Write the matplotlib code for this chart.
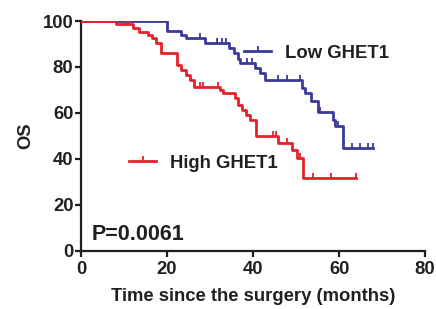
import matplotlib
matplotlib.use("Agg")
import matplotlib.pyplot as plt
from matplotlib.lines import Line2D

plt.rcParams['font.family'] = ['Liberation Sans', 'DejaVu Sans']
plt.rcParams['font.weight'] = 'bold'

# Low GHET1 (step times and survival after each step)
low_t = [0, 20.0, 23.3, 24.5, 28.8, 34.3, 35.5, 36.5, 37.0, 40.5, 41.5, 42.8, 51.3, 52.0, 53.5, 55.0, 58.5, 59.0, 60.8, 68.0]
low_s = [100, 95.8, 94.0, 92.5, 90.3, 88.1, 85.9, 83.3, 81.6, 79.4, 77.3, 74.3, 71.0, 68.6, 65.0, 60.6, 57.0, 54.3, 44.8, 44.8]
low_cens = [13.7, 20.0, 27.6, 31.6, 32.8, 33.7, 38.5, 39.7, 45.8, 47.8, 50.9, 55.6, 59.8, 62.9, 64.9, 66.7, 68.0]

# High GHET1
high_t = [0, 8.2, 12.1, 13.5, 15.5, 16.5, 17.5, 18.5, 22.3, 23.3, 24.4, 25.3, 26.2, 32.2, 33.0, 35.8, 36.6, 37.5, 38.3, 39.3, 40.6, 45.8, 49.0, 50.2, 51.6, 64.0]
high_s = [100, 98.7, 96.8, 95.4, 93.9, 92.5, 90.3, 86.0, 81.0, 78.8, 76.5, 74.3, 71.4, 69.9, 68.6, 66.5, 63.6, 61.4, 59.3, 57.0, 49.8, 47.0, 44.0, 40.5, 31.6, 31.6]
high_cens = [10.2, 11.0, 27.6, 28.4, 31.9, 44.6, 45.3, 47.8, 50.9, 53.9, 58.1, 64.0]

low_label = "Low GHET1"
high_label = "High GHET1"
p_text = "P=0.0061"
xticks = [0, 20, 40, 60, 80]
yticks = [0, 20, 40, 60, 80, 100]

blue = "#3b3a98"
red = "#e8202a"
ink = "#231f20"
up_tick = [(0, 0), (0, 1)]

def surv_at(ts, ss, t):
    v = ss[0]
    for ti, si in zip(ts, ss):
        if ti <= t:
            v = si
    return v

fig = plt.figure(figsize=(4.36, 3.09), dpi=100)
ax = fig.add_axes([0.186, 0.188, 0.789, 0.744])

ax.step(low_t, low_s, where='post', color=blue, lw=2.0, zorder=3)
ax.step(high_t, high_s, where='post', color=red, lw=2.0, zorder=3)
ax.plot(low_cens, [surv_at(low_t, low_s, c) for c in low_cens], ls='none',
        marker=up_tick, ms=7, mew=1.3, color=blue, zorder=4)
ax.plot(high_cens, [surv_at(high_t, high_s, c) for c in high_cens], ls='none',
        marker=up_tick, ms=7, mew=1.3, color=red, zorder=4)

ax.set_xlim(0, 80)
ax.set_ylim(0, 100)
ax.set_xticks(xticks)
ax.set_yticks(yticks)
for s in ['top', 'right']:
    ax.spines[s].set_visible(False)
for s in ['left', 'bottom']:
    ax.spines[s].set_linewidth(1.6)
    ax.spines[s].set_color(ink)
ax.tick_params(direction='out', length=4.5, width=1.6, labelsize=13.3, pad=1,
               color=ink, labelcolor=ink)
ax.tick_params(axis='x', pad=3)
for lbl in ax.get_xticklabels() + ax.get_yticklabels():
    lbl.set_fontweight('bold')

ax.set_xlabel("Time since the surgery (months)", fontsize=13.3, fontweight='bold',
              labelpad=7, color=ink)
ax.set_ylabel("OS", fontsize=13.3, fontweight='bold', labelpad=6, color=ink)

h_low = Line2D([0], [0], color=blue, lw=2.0, marker=up_tick, ms=7, mew=1.3)
h_high = Line2D([0], [0], color=red, lw=2.0, marker=up_tick, ms=7, mew=1.3)
leg1 = ax.legend([h_low], [low_label], loc='center left', bbox_to_anchor=(0.475, 0.86),
                 frameon=False, handlelength=1.45, handletextpad=0.75, borderpad=0,
                 borderaxespad=0, prop={'size': 13.3, 'weight': 'bold'}, numpoints=1,
                 labelcolor=ink)
ax.add_artist(leg1)
ax.legend([h_high], [high_label], loc='center left', bbox_to_anchor=(0.14, 0.381),
          frameon=False, handlelength=1.45, handletextpad=0.75, borderpad=0,
          borderaxespad=0, prop={'size': 13.3, 'weight': 'bold'}, numpoints=1,
          labelcolor=ink)

ax.text(0.03, 0.072, p_text, transform=ax.transAxes, fontsize=15.5, fontweight='bold',
        va='center', ha='left', color=ink)

fig.savefig("out.png", dpi=100)
